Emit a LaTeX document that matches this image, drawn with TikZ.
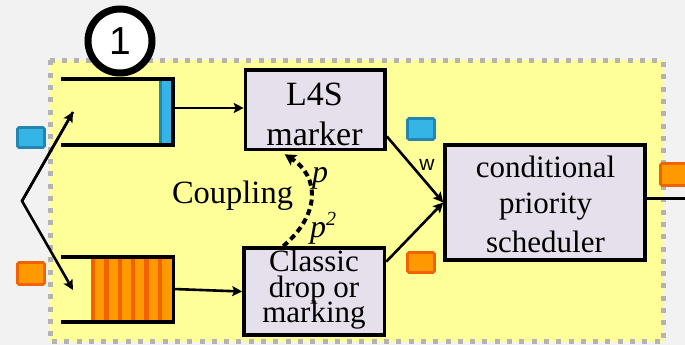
\documentclass[tikz,border=0pt]{standalone}
\usepackage{fontspec}
\setmainfont{Liberation Serif}
\setsansfont{Liberation Sans}
\usetikzlibrary{arrows.meta,calc}
\definecolor{bggray}{HTML}{F2F2F2}
\definecolor{yel}{HTML}{FFFF99}
\definecolor{dotgray}{HTML}{B3B3B3}
\definecolor{boxfill}{HTML}{E6E0EC}
\definecolor{pblue}{HTML}{35B5E5}
\definecolor{pblued}{HTML}{2186B0}
\definecolor{porange}{HTML}{FF9900}
\definecolor{porangd}{HTML}{F26200}
\begin{document}
\begin{tikzpicture}[x=1pt,y=-1pt,
  boxnode/.style={draw=black, line width=3.6pt, fill=boxfill, inner sep=0pt},
  txt/.style={inner sep=0pt, anchor=base, font=\fontsize{31}{31}\selectfont},
  arr/.style={line width=2.6pt, -{Stealth[length=10pt,width=10pt,inset=2pt]}},
  bluepkt/.style={draw=pblued, fill=pblue, line width=2.6pt, rounded corners=1.5pt},
  orangepkt/.style={draw=porangd, fill=porange, line width=2.6pt, rounded corners=1.5pt},
  queueline/.style={line width=3.8pt, line join=miter}]
\clip (0,0) rectangle (685,345);
\fill[bggray] (0,0) rectangle (685,345);
% yellow area with dotted border
\fill[yel] (50,60.5) rectangle (663,341.5);
\draw[dotgray, line width=5pt, dash pattern=on 5pt off 7.3pt] (50,60.5) rectangle (663,341.5);
% circle 1
\node[circle, draw=black, line width=7pt, fill=white, minimum size=64pt, inner sep=0pt,
      font=\sffamily\fontsize{39}{39}\selectfont] (one) at (120,41) {1};
% top queue
\fill[pblue] (159,79) rectangle (172.7,144.7);
\fill[pblued] (159,79) rectangle (162,144.7);
\draw[queueline] (61,79) -- (172.7,79) -- (172.7,144.7) -- (61,144.7);
% bottom queue
\fill[porange] (91,257) rectangle (173.5,322);
\foreach \i in {0,...,5} {
  \fill[porangd] ({91+13.33*\i},257) rectangle ({95.3+13.33*\i},322);
}
\draw[queueline] (61,257) -- (173.5,257) -- (173.5,322) -- (61,322);
% boxes
\node[boxnode, minimum width=139.5pt, minimum height=79.5pt] (l4s) at (315.25,109.75) {};
\node[boxnode, minimum width=140.5pt, minimum height=87pt] (cl) at (314.25,291.5) {};
\node[boxnode, minimum width=200pt, minimum height=115pt] (sched) at (545,202.5) {};
% box texts
\node[txt, font=\fontsize{34}{34}\selectfont] at (314.5,105) {L4S};
\node[txt, font=\fontsize{34}{34}\selectfont] at (314.5,145) {marker};
\node[txt] at (314,271) {Classic};
\node[txt] at (314,297) {drop or};
\node[txt] at (314,322) {marking};
\node[txt] at (545.5,177) {conditional};
\node[txt] at (545.5,213) {priority};
\node[txt] at (545.5,252) {scheduler};
% coordinates
\coordinate (src) at (22,201);
\coordinate (q1in) at (73,112);
\coordinate (q2in) at (73,290);
\coordinate (q1out) at (172.7,108);
\coordinate (q2out) at (173.5,289);
\coordinate (out) at (685,198);
% connectors
\draw[arr, line join=miter] (q1in) -- (src) -- (q2in);
\draw[arr] (src) -- (q1in);
\draw[arr] (q1out) -- (q1out -| l4s.west);
\draw[arr] (q2out) -- (cl.west);
\draw[arr] ($(l4s.north east)!0.82!(l4s.south east)$) -- (sched.west);
\draw[arr] ($(cl.north east)!0.17!(cl.south east)$) -- (sched.west);
\draw[line width=3pt] (sched.east |- out) -- (out);
\draw[line width=4pt, dash pattern=on 6pt off 4pt, -{Stealth[length=11pt,width=12pt,inset=2pt]}]
  ($(cl.north west)+(41,0)$) .. controls (320,215) and (320,177) .. ($(l4s.south west)+(41,3)$);
% labels
\node[txt] at (232.5,203) {\fontsize{32.5}{32.5}\selectfont Coupling};
\node[txt, anchor=base west] at (312,182) {\fontsize{32}{32}\selectfont\textit{p}};
\node[txt, anchor=base west] at (310,237) {\fontsize{32}{32}\selectfont\textit{p}\raisebox{12pt}{\fontsize{20}{20}\selectfont\textit{2}}};
\node[txt, anchor=base, font=\sffamily\fontsize{21}{21}\selectfont] at (427,170) {w};
% packets
\draw[bluepkt] (17.5,127.5) rectangle (44.5,147.5);
\draw[orangepkt] (17.5,262.5) rectangle (44.5,284.5);
\draw[bluepkt] (407.5,118.5) rectangle (434.5,139.5);
\draw[orangepkt] (407.5,252.5) rectangle (434.5,272.5);
\draw[orangepkt] (660.5,163.5) rectangle (692,185.5);
\end{tikzpicture}
\end{document}
